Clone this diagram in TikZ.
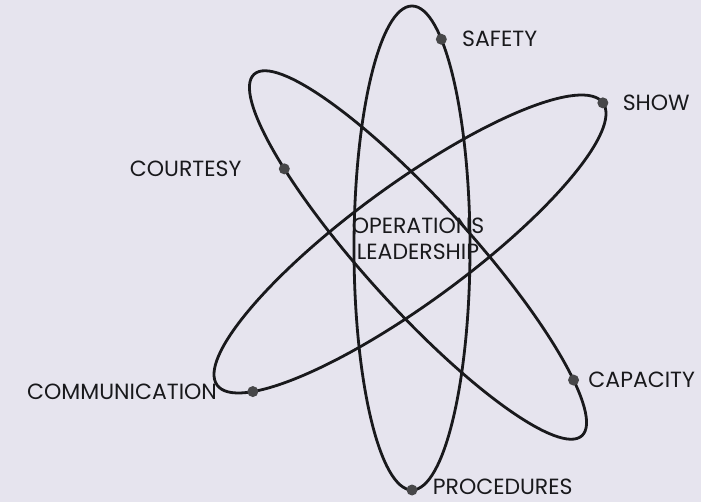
\documentclass[tikz,border=0pt]{standalone}
\usepackage{fontspec}
\setmainfont{Poppins}
\usepackage{tikz}
\usetikzlibrary{positioning,shapes.geometric}
\definecolor{paper}{RGB}{230,228,238}
\definecolor{ink}{RGB}{25,25,28}

\begin{document}
\begin{tikzpicture}[x=1pt,y=1pt,
    every node/.style={font=\fontsize{22}{26}\selectfont,text=ink},
    orbit/.style={draw=ink,line width=2.8pt,ellipse,inner sep=0pt,outer sep=0pt},
    spot/.style={circle,fill=ink!80!white,minimum size=11pt,inner sep=0pt},
    tag/.style={inner sep=0pt}]
  \fill[paper] (0,0) rectangle (701,-502);
  \useasboundingbox (0,0) rectangle (701,-502);

  \node[orbit,minimum width=116pt,minimum height=484pt] (upright) at (412,-248) {};
  \node[orbit,minimum width=488pt,minimum height=106pt,rotate=-47.8] (falling) at (418,-255) {};
  \node[orbit,minimum width=478pt,minimum height=118pt,rotate=36.2] (rising) at (410,-244) {};

  \node[spot] (safetydot) at (upright.82.8) {};
  \node[spot] (procdot) at (upright.270.5) {};
  \node[spot] (courtdot) at (falling.195.5) {};
  \node[spot] (capdot) at (falling.9.6) {};
  \node[spot] (showdot) at (rising.0.5) {};
  \node[spot] (commdot) at (rising.187.5) {};

  \node[tag,right=15pt of safetydot] (safety) {SAFETY};
  \node[tag,right=14pt of showdot] (show) {SHOW};
  \node[tag,left=37pt of courtdot] (courtesy) {COURTESY};
  \node[tag,left=30pt of commdot] (comm) {COMMUNICATION};
  \node[tag,right=9pt of capdot] (capacity) {CAPACITY};
  \node[tag,right=15pt of procdot,yshift=3pt] (proc) {PROCEDURES};

  \node[align=center,inner sep=0pt] (core) at (418,-239) {OPERATIONS\\LEADERSHIP};
\end{tikzpicture}
\end{document}
